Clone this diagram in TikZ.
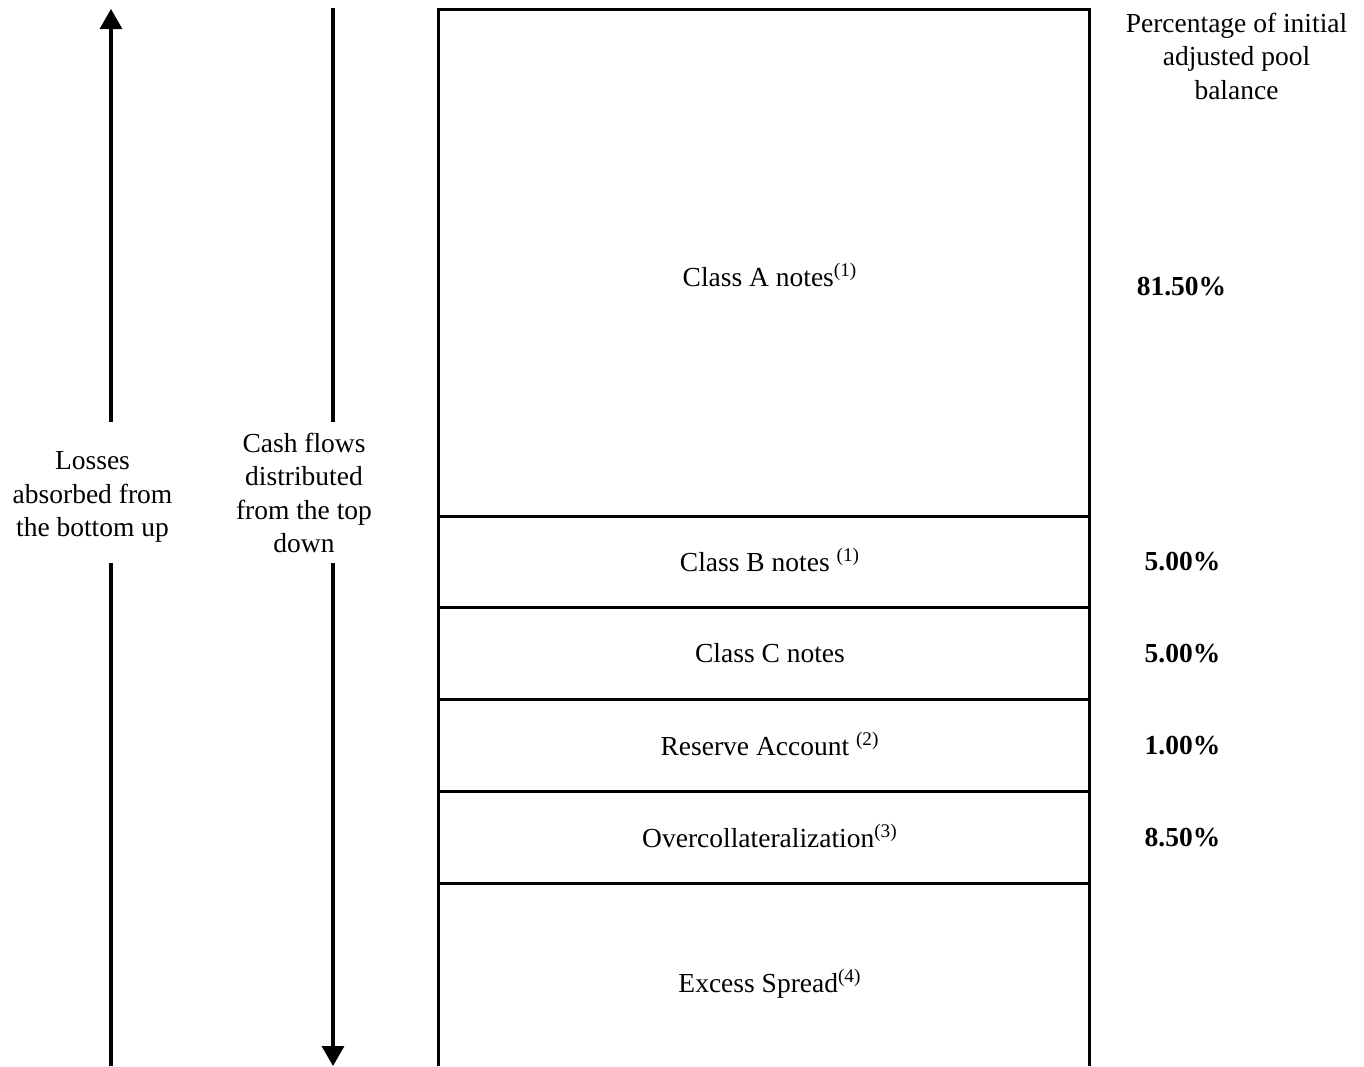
\documentclass[tikz,border=0pt]{standalone}
\usepackage{fontspec}
\setmainfont{Liberation Serif}
\usetikzlibrary{arrows.meta}
\begin{document}
\begin{tikzpicture}[x=0.5pt,y=-0.5pt,
  txt/.style={font=\fontsize{13.75}{16.75}\selectfont, align=center, inner sep=0pt},
  pct/.style={font=\fontsize{13.75}{16.75}\selectfont\bfseries, inner sep=0pt},
  rule/.style={line width=1.5pt},
  flow/.style={line width=1.7pt, -{Triangle[width=11pt,length=10pt]}}]
\useasboundingbox (0,0) rectangle (1364,1066);
% tranche stack
\draw[rule] (438,1066) -- (438,9) -- (1089,9) -- (1089,1066);
\foreach \yy in {516,607,699,791,883} \draw[rule] (438,\yy) -- (1089,\yy);
% labels
\node[txt] (hdr) at (1236.5,56) {Percentage of initial\\adjusted pool\\balance};
\node[txt] (clA) at (770,275) {Class A notes\textsuperscript{(1)}};
\node[txt] (clB) at (770,560) {Class B notes \textsuperscript{(1)}};
\node[txt] (clC) at (770,653) {Class C notes};
\node[txt] (res) at (770,744) {Reserve Account \textsuperscript{(2)}};
\node[txt] (oc) at (770,836) {Overcollateralization\textsuperscript{(3)}};
\node[txt] (xs) at (770,984) {Excess Spread\textsuperscript{(4)}};
\node[pct] (pA) at (1181.5,287) {81.50\%};
\node[pct] (pB) at (1182.5,562) {5.00\%};
\node[pct] (pC) at (1182.5,654) {5.00\%};
\node[pct] (pR) at (1182.5,746) {1.00\%};
\node[pct] (pO) at (1182.5,838) {8.50\%};
\node[txt] (loss) at (92.5,497) {Losses\\absorbed from\\the bottom up};
\node[txt] (cash) at (304,493) {Cash flows\\distributed\\from the top\\down};
% arrows
\coordinate (lossTop) at (111,9);
\coordinate (lossA) at (111,422);
\coordinate (lossB) at (111,563);
\coordinate (lossBot) at (111,1066);
\coordinate (cashTop) at (333,8);
\coordinate (cashA) at (333,422);
\coordinate (cashB) at (333,563);
\coordinate (cashBot) at (333,1066);
\draw[flow] (lossA) -- (lossTop);
\draw[line width=1.7pt] (lossBot) -- (lossB);
\draw[line width=1.7pt] (cashTop) -- (cashA);
\draw[flow] (cashB) -- (cashBot);
\end{tikzpicture}
\end{document}
